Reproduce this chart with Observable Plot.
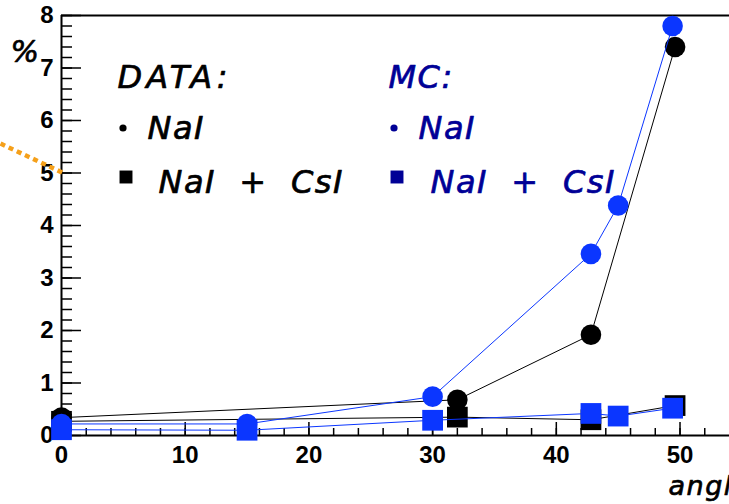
<!DOCTYPE html>
<html>
<head>
<meta charset="utf-8">
<script src="https://cdn.jsdelivr.net/npm/d3@7"></script>
<script src="https://cdn.jsdelivr.net/npm/@observablehq/plot@0.6"></script>
<style>
  html, body { margin: 0; padding: 0; background: #fff; }
</style>
</head>
<body>
<div id="chart"></div>
<script>
// Measured fraction (%) versus angle: DATA and MC, NaI alone and NaI + CsI
const dataAngles = [0, 32, 42.8, 49.6];
const dataNaI    = [0.34, 0.68, 1.92, 7.40];
const dataNaICsI = [0.27, 0.35, 0.30, 0.57];

const mcAngles   = [0, 15, 30, 42.8, 45, 49.4];
const mcNaI      = [0.22, 0.22, 0.74, 3.46, 4.38, 7.80];
const mcNaICsI   = [0.11, 0.10, 0.29, 0.42, 0.37, 0.52];

const xTickLabels = [0, 10, 20, 30, 40, 50];
const yTickLabels = [0, 1, 2, 3, 4, 5, 6, 7, 8];

// dotted orange pointer entering from the left
const pointerAngle = [-4.93, 0.32];
const pointerValue = [5.56, 4.98];

const BLUE = "#0b36ff";
const NAVY = "#000096";
const TEXT_FONT = "DejaVu Sans, sans-serif";
const AXIS_FONT = "Liberation Sans, Arial, sans-serif";

const dataRows = dataAngles.map((a, i) => ({angle: a, nai: dataNaI[i], naicsi: dataNaICsI[i]}));
const mcRows = mcAngles.map((a, i) => ({angle: a, nai: mcNaI[i], naicsi: mcNaICsI[i]}));
const pointerRows = pointerAngle.map((a, i) => ({angle: a, value: pointerValue[i]}));

const W = 729, H = 504;
const M = {top: 15, right: 0, bottom: 69, left: 61};
const frameW = W - M.left - M.right;
const frameH = H - M.top - M.bottom;

const xMinor = d3.range(0, 27).map(i => i * 2);
const yMinor = d3.range(0, 41).map(i => i / 5);

// italic legend/title text, slightly thickened with a same-colour outline
const italicText = (text, fill, frameAnchor, dx, dy, fontSize) => Plot.text([text], {
  frameAnchor, dx, dy, text: d => d,
  textAnchor: "start", lineAnchor: "bottom",
  fill, stroke: fill, strokeWidth: 0.7,
  fontSize, fontStyle: "italic", fontFamily: TEXT_FONT
});
const legendText = (text, fill, dx, dy) => italicText(text, fill, "top-left", dx, dy, 32);

const chart = Plot.plot({
  width: W,
  height: H,
  marginTop: M.top,
  marginRight: M.right,
  marginBottom: M.bottom,
  marginLeft: M.left,
  style: {background: "white", fontFamily: AXIS_FONT, overflow: "visible"},
  x: {domain: [0, 54], axis: null, label: null},
  y: {domain: [0, 8], axis: null, label: null},
  marks: [
    // frame lines
    Plot.ruleY([8], {stroke: "black", strokeWidth: 2}),
    Plot.ruleX([0], {stroke: "black", strokeWidth: 2}),
    Plot.ruleY([0], {stroke: "black", strokeWidth: 2}),

    // inward ticks
    Plot.tickX(xTickLabels, {x: d => d, insetTop: frameH - 13, stroke: "black", strokeWidth: 1.5}),
    Plot.tickX(xMinor, {x: d => d, insetTop: frameH - 7, stroke: "black", strokeWidth: 1.5}),
    Plot.tickY(yTickLabels, {y: d => d, insetRight: frameW - 20, stroke: "black", strokeWidth: 1.5}),
    Plot.tickY(yMinor, {y: d => d, insetRight: frameW - 11, stroke: "black", strokeWidth: 1.5}),

    // tick labels
    Plot.axisX(xTickLabels, {tickSize: 0, tickPadding: 10, fontSize: 24, fontWeight: "bold", fill: "black",
      label: null, tickFormat: d => String(d)}),
    Plot.axisY(yTickLabels, {tickSize: 0, tickPadding: 8, fontSize: 24, fontWeight: "bold", fill: "black",
      label: null, tickFormat: d => String(d)}),

    // axis titles
    italicText("%", "black", "top-left", -51, 46, 30),
    italicText("angle", "black", "bottom-right", -61, 59, 27),

    // DATA, NaI
    Plot.line(dataRows, {x: "angle", y: "nai", stroke: "black", strokeWidth: 1}),
    Plot.dot(dataRows, {x: "angle", y: "nai", r: 10.3, fill: "black", symbol: "circle"}),
    // DATA, NaI + CsI
    Plot.line(dataRows, {x: "angle", y: "naicsi", stroke: "black", strokeWidth: 1}),
    Plot.dot(dataRows, {x: "angle", y: "naicsi", r: 11.7, fill: "black", symbol: "square"}),
    // MC, NaI
    Plot.line(mcRows, {x: "angle", y: "nai", stroke: BLUE, strokeWidth: 1}),
    Plot.dot(mcRows, {x: "angle", y: "nai", r: 10.3, fill: BLUE, symbol: "circle"}),
    // MC, NaI + CsI
    Plot.line(mcRows, {x: "angle", y: "naicsi", stroke: BLUE, strokeWidth: 1}),
    Plot.dot(mcRows, {x: "angle", y: "naicsi", r: 11.7, fill: BLUE, symbol: "square"}),

    // legend
    legendText("DATA:", "black", 56, 72),
    Plot.dot([0], {frameAnchor: "top-left", dx: 61.5, dy: 112.5, r: 3.6, fill: "black"}),
    legendText("NaI", "black", 86, 123),
    Plot.dot([0], {frameAnchor: "top-left", dx: 64.5, dy: 161.5, r: 7.3, symbol: "square", fill: "black"}),
    legendText("NaI  +  CsI", "black", 97, 177),

    legendText("MC:", NAVY, 327, 72),
    Plot.dot([0], {frameAnchor: "top-left", dx: 332.5, dy: 112.5, r: 3.6, fill: NAVY}),
    legendText("NaI", NAVY, 357, 123),
    Plot.dot([0], {frameAnchor: "top-left", dx: 335.5, dy: 161.5, r: 7.3, symbol: "square", fill: NAVY}),
    legendText("NaI  +  CsI", NAVY, 369, 177),

    // orange dotted pointer
    Plot.line(pointerRows, {x: "angle", y: "value", stroke: "#f5a01a", strokeWidth: 4.5,
      strokeDasharray: "5 4", strokeLinecap: "butt"})
  ]
});

const texts = d3.select(chart).selectAll('g[aria-label="text"] text');
texts.style("letter-spacing", "1.5px");
texts.filter(function () { return this.textContent === "DATA:"; }).style("letter-spacing", "4px");
document.getElementById("chart").appendChild(chart);
</script>
</body>
</html>
